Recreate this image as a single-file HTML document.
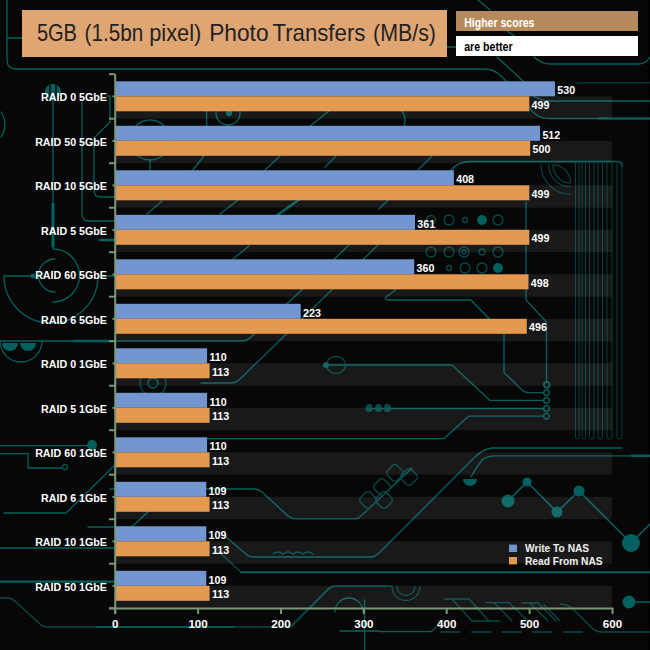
<!DOCTYPE html>
<html><head><meta charset="utf-8"><style>
html,body{margin:0;padding:0;background:#070707;width:650px;height:650px;overflow:hidden}
svg{display:block}
text{font-family:"Liberation Sans",sans-serif}
.dl,.cl,.xl{font-weight:bold;fill:#ffffff;font-size:10.7px}
.xl{font-size:11.6px}
.lg{font-weight:bold;fill:#f2f2f2;font-size:10.2px}
</style></head><body>
<svg width="650" height="650" viewBox="0 0 650 650">
<rect width="650" height="650" fill="#070707"/>
<rect x="648" y="0" width="2" height="650" fill="#000"/>
<g fill="none" stroke="#03605e" stroke-width="1.3" stroke-linecap="round" stroke-linejoin="round">
<!-- top frame -->
<path d="M7,0 V60 Q7,69 16,69 H485 Q494,69 501,76 L508,83"/>
<path d="M7,38 H22"/>
<path d="M447,47 H456"/>
<path d="M534,57 Q541,64 551,64 H638 Q646,64 650,57"/>
<path d="M478,0 L490,10"/>
<path d="M503,28 L520,40"/>
<path d="M497,57 L523,81"/>
<path d="M530,94 Q540,101 551,101 H650"/>
<path d="M577,82.9 H650" stroke="#06403e"/>
<path d="M527,104 Q535,118.5 549,118.5 H650"/>
<path d="M598,118.5 H650" stroke-width="2.2"/>
<path d="M402,111 Q407,118 404,126"/>
<!-- left column traces -->
<path d="M53,100 V248" />
<path d="M53,204 V246" stroke-width="3.2"/>
<path d="M82,102 V214 Q82,221 89,221 H115"/>
<path d="M107,96 H110 V122 L94,138 V190 Q94,197 101,197 H115"/>
<path d="M100,240 H115" stroke-width="2.4"/>
<path d="M53,249 A26.5,26.5 0 0 1 53,302"/>
<path d="M55,259 A16,16 0 0 0 55,292"/>
<path d="M4,276 H33 M100,276 H115"/>
<path d="M4,276 A47,47 0 0 0 98,276"/>
<path d="M0,341 H242 Q247,341 251,337 L302,289.7 L349,245"/>
<path d="M74,341 H109" stroke-width="2.6"/>
<path d="M0,341 A21,21 0 0 0 42,341"/>
<path d="M0,445.6 H92"/>
<path d="M0,453.6 H28 V468 H62"/>
<path d="M4,513 H66 L115,465"/>
<path d="M88,527 H128 Q132,527 135,524 L150,510"/>
<path d="M0,548 H115"/>
<path d="M0,581.6 H115" stroke-width="2.2"/>
<path d="M0,598 H8 Q12,598 16,602 L40,624 Q43,627 48,627 H291 L329,589 Q332,586 337,586 H389" stroke="#064a48"/>
<path d="M96,627 H234" />
<!-- plot-area fragments -->
<circle cx="150" cy="140" r="20"/>
<path d="M150,160 V171"/>
<path d="M1,112 Q9,124 1,137"/>
<circle cx="228" cy="113" r="12"/>
<circle cx="229" cy="113" r="2.5" fill="#03605e"/>
<path d="M206.6,111 V126"/>
<path d="M309,127 L330,110"/>
<path d="M192,171 L204,156"/>
<path d="M265,170 L280,156 M325,167 L336,156 M418,170 L432,156 M379,209 L389,199 M147,214 L162,201 M220,214 L238,200 M233,259 L249,246"/>
<path d="M276,216 L300,199" stroke-width="2.6"/>
<path d="M450,171 Q458,161.5 470,161.5 H617 Q622,161.5 622,166.5"/>
<!-- right bus -->
<g stroke="#053e3c" stroke-width="1">
<path d="M575.5,161.5 V437.2 A1.75,1.75 0 0 0 579,437.2 V161.5"/>
<path d="M582,161.5 V437.2 A1.75,1.75 0 0 0 585.5,437.2 V161.5"/>
<path d="M589.5,161.5 V436.8 A2.25,2.25 0 0 0 594,436.8 V161.5"/>
<path d="M598,161.5 V436.8 A2.25,2.25 0 0 0 602.5,436.8 V161.5"/>
<path d="M607,161.5 V436.5 A2.50,2.50 0 0 0 612,436.5 V161.5"/>
<path d="M617,161.5 V436.5 A2.50,2.50 0 0 0 622,436.5 V161.5"/>
</g>
<g stroke="#064a48" stroke-width="1.1">
<path d="M541,164.8 A29.5,29.5 0 0 0 570.6,194.3"/>
<path d="M548.6,164.8 A22,22 0 0 0 570.6,186.8"/>
<path d="M553,164.8 A18,18 0 0 0 570.6,183 A18,18 0 0 0 553,164.8"/>
</g>
<path d="M526,202 V300 L546.5,322 V381"/>
<path d="M455,160 Q448,168 455,175" stroke="none"/>
<path d="M396,289.4 L386,297 Q384,300 388,300 H470.8 L504,333.7 V372.5 L522,390 Q525,392.7 530,392.7 H543.5"/>
<path d="M326,365 H452 L490,400.4 H543.5"/>
<path d="M369,408.5 H543.5"/>
<path d="M200,438.6 H444 L468.6,416.2 H543.5"/>
<path d="M110,489 H254 Q258,489 262,492 L287,515 Q291,518.8 296,518.8 H355 Q358,518.8 361,516 L412,468"/>
<path d="M220,532 L246,554 Q249,557 254,557 H370 Q375,557 379,553 L475,457 Q483,449 492,448 H622"/>
<path d="M471,477 Q476,468 482,460 Q487,455.8 495,455.8 H650"/>
<path d="M632,455.8 H649" stroke-width="2.6"/>
<path d="M241,572.3 H650" stroke-width="2"/>
<path d="M215,548 L241,572.3" stroke="#064a48"/>
<path d="M201,383 H230 Q236,383 240,379 L378,245"/>

<path d="M273,554 q5,-4 10,0 q5,-4 10,0 q5,-4 10,0 q5,-4 10,0" stroke="#064a48"/>
<path d="M291,626 L329,588 Q332,586 337,586 H392" stroke="#064a48"/>
<path d="M335,612 A14,14 0 0 1 363,612 M364.6,600 V650 M340,631 H380"/>
<!-- dot graph -->
<path d="M508,501 L527,482 L557,512 L579,491 L631,543 L650,524" stroke-width="1.6"/>
<path d="M629,602 H650" stroke-width="1.6"/>
<!-- bottom right diagonals near axis -->
<g stroke="#064a48" stroke-width="1.3">
<path d="M444,599 H469 L489,621 M452,599 L472,621 H500"/>
<path d="M486,602.6 H509 L528,621 M494,602.6 L512,621"/>
<path d="M522,603 H538 L556,621 M530,603 L548,621 M544,605 L560,621"/>
<path d="M560,604 Q568,604 574,610 L592,628 Q596,632 602,632 H650"/>
</g>
<path d="M441,632 H590" stroke-dasharray="19,11.6" stroke="#064a48"/>
<path d="M380,631.7 H429 Q433,631.7 436,627"/>
<path d="M392,586.5 A14,14 0 0 0 420,586.5 M397,586.5 A9,9 0 0 0 415,586.5" stroke="#064a48"/>
<!-- pads -->
<g stroke="#064a48">
<rect x="-7" y="-7" width="14" height="14" rx="4" transform="translate(368,500) rotate(45)"/>
<rect x="-7" y="-7" width="14" height="14" rx="4" transform="translate(382,487) rotate(45)"/>
<rect x="-7" y="-7" width="14" height="14" rx="4" transform="translate(395,473) rotate(45)"/>
<rect x="-7" y="-7" width="14" height="14" rx="4" transform="translate(409,477) rotate(45)"/>
<rect x="-7" y="-7" width="14" height="14" rx="4" transform="translate(384,500) rotate(45)"/>
</g>
<ellipse cx="336" cy="365" rx="9.5" ry="8.5" stroke="#064a48"/>
<circle cx="153" cy="383" r="13" stroke="#064a48"/>
<circle cx="153" cy="383" r="5"/>
<!-- hole grid -->
<g stroke="#064a48">
<circle cx="431" cy="220" r="4.5"/><circle cx="449" cy="220" r="5"/><circle cx="465" cy="220" r="2.5"/><circle cx="498" cy="220" r="5"/>
<circle cx="431" cy="252" r="5"/><circle cx="449" cy="252" r="5"/><circle cx="464" cy="252" r="5"/><circle cx="464" cy="252" r="2"/><circle cx="482" cy="252" r="3"/><circle cx="498" cy="252" r="5"/>
<circle cx="449" cy="268" r="2.5"/><circle cx="465" cy="268" r="5"/><circle cx="482" cy="268" r="5"/>
</g>
<g>
<circle cx="546.5" cy="384.6" r="2.8"/><circle cx="546.5" cy="392.7" r="2.8"/><circle cx="546.5" cy="400.4" r="2.8"/><circle cx="546.5" cy="408.5" r="2.8"/><circle cx="546.5" cy="416.2" r="2.8"/>
</g>
<circle cx="547" cy="385" r="3"/>
</g>
<g fill="#03605e">
<circle cx="53" cy="92" r="8"/>
<circle cx="33" cy="276" r="2.5"/>
<circle cx="92" cy="445" r="5"/>
<circle cx="326" cy="365" r="3"/>
<path d="M2,343 A8,8 0 0 0 18,343 Z M20,343 A8,8 0 0 0 36,343 Z"/>
<circle cx="482" cy="220" r="5"/>
<circle cx="498" cy="268" r="5"/>
<circle cx="508" cy="501" r="6.5"/>
<circle cx="527" cy="482" r="4.5"/>
<circle cx="557" cy="512" r="5.5"/>
<circle cx="579" cy="491" r="5.5"/>
<circle cx="631" cy="543" r="9"/>
<circle cx="629" cy="602" r="6.5"/>
<path d="M463,479 A7,7 0 0 0 477,479 Z"/>
<rect x="365.5" y="404" width="7" height="8" rx="3.5" fill="#064a48"/>
<rect x="375" y="404" width="7" height="8" rx="3.5" fill="#064a48"/>
<rect x="384" y="404" width="7" height="8" rx="3.5" fill="#064a48"/>
</g>
<g fill="none" stroke="#03605e" stroke-width="1.2">
<circle cx="65" cy="467" r="2.5"/>
</g>
<g stroke="#0a0a0a" stroke-width="1.6">
<path d="M50,85 V99 M56,85 V99"/>
</g>

<rect x="22" y="10" width="425" height="47" fill="#dfa674"/>
<text x="36.9" y="41.1" font-size="23.6" fill="#222222" textLength="40.1" lengthAdjust="spacingAndGlyphs">5GB</text>
<text x="84.6" y="41.1" font-size="23.6" fill="#222222" textLength="58.7" lengthAdjust="spacingAndGlyphs">(1.5bn</text>
<text x="149.2" y="41.1" font-size="23.6" fill="#222222" textLength="52.2" lengthAdjust="spacingAndGlyphs">pixel)</text>
<text x="209.2" y="41.1" font-size="23.6" fill="#222222" textLength="59.4" lengthAdjust="spacingAndGlyphs">Photo</text>
<text x="272.4" y="41.1" font-size="23.6" fill="#222222" textLength="93.0" lengthAdjust="spacingAndGlyphs">Transfers</text>
<text x="373.0" y="41.1" font-size="23.6" fill="#222222" textLength="63.0" lengthAdjust="spacingAndGlyphs">(MB/s)</text>
<rect x="456" y="11" width="182" height="20" fill="#b58b5e"/>
<text x="464.2" y="26.7" font-size="12.5" font-weight="bold" fill="#ffffff" textLength="70.3" lengthAdjust="spacingAndGlyphs">Higher scores</text>
<rect x="456" y="36" width="182" height="20" fill="#ffffff"/>
<text x="464.2" y="51.2" font-size="12.5" font-weight="bold" fill="#000000" textLength="48.5" lengthAdjust="spacingAndGlyphs">are better</text>
<rect x="116" y="96.3" width="496" height="22.4" fill="#fff" fill-opacity="0.075"/>
<rect x="116" y="140.8" width="496" height="22.4" fill="#fff" fill-opacity="0.075"/>
<rect x="116" y="185.3" width="496" height="22.4" fill="#fff" fill-opacity="0.075"/>
<rect x="116" y="229.8" width="496" height="22.4" fill="#fff" fill-opacity="0.075"/>
<rect x="116" y="274.3" width="496" height="22.4" fill="#fff" fill-opacity="0.075"/>
<rect x="116" y="318.8" width="496" height="22.4" fill="#fff" fill-opacity="0.075"/>
<rect x="116" y="363.3" width="496" height="22.4" fill="#fff" fill-opacity="0.075"/>
<rect x="116" y="407.8" width="496" height="22.4" fill="#fff" fill-opacity="0.075"/>
<rect x="116" y="452.3" width="496" height="22.4" fill="#fff" fill-opacity="0.075"/>
<rect x="116" y="496.8" width="496" height="22.4" fill="#fff" fill-opacity="0.075"/>
<rect x="116" y="541.3" width="496" height="22.4" fill="#fff" fill-opacity="0.075"/>
<rect x="116" y="585.8" width="496" height="22.4" fill="#fff" fill-opacity="0.075"/>
<rect x="116.0" y="81.3" width="439.0" height="15" fill="#7396d0"/>
<rect x="116.0" y="96.3" width="413.3" height="15" fill="#e39a50"/>
<text class="dl" x="557.3" y="94.1">530</text>
<text class="dl" x="531.6" y="108.9">499</text>
<text class="cl" x="107" y="101.0" text-anchor="end">RAID 0 5GbE</text>
<rect x="116.0" y="125.8" width="424.1" height="15" fill="#7396d0"/>
<rect x="116.0" y="140.8" width="414.2" height="15" fill="#e39a50"/>
<text class="dl" x="542.4" y="138.6">512</text>
<text class="dl" x="532.5" y="153.4">500</text>
<text class="cl" x="107" y="145.5" text-anchor="end">RAID 50 5GbE</text>
<rect x="116.0" y="170.3" width="337.9" height="15" fill="#7396d0"/>
<rect x="116.0" y="185.3" width="413.3" height="15" fill="#e39a50"/>
<text class="dl" x="456.2" y="183.1">408</text>
<text class="dl" x="531.6" y="197.9">499</text>
<text class="cl" x="107" y="190.0" text-anchor="end">RAID 10 5GbE</text>
<rect x="116.0" y="214.8" width="299.0" height="15" fill="#7396d0"/>
<rect x="116.0" y="229.8" width="413.3" height="15" fill="#e39a50"/>
<text class="dl" x="417.3" y="227.6">361</text>
<text class="dl" x="531.6" y="242.4">499</text>
<text class="cl" x="107" y="234.5" text-anchor="end">RAID 5 5GbE</text>
<rect x="116.0" y="259.3" width="298.2" height="15" fill="#7396d0"/>
<rect x="116.0" y="274.3" width="412.5" height="15" fill="#e39a50"/>
<text class="dl" x="416.5" y="272.1">360</text>
<text class="dl" x="530.8" y="286.9">498</text>
<text class="cl" x="107" y="279.0" text-anchor="end">RAID 60 5GbE</text>
<rect x="116.0" y="303.8" width="184.7" height="15" fill="#7396d0"/>
<rect x="116.0" y="318.8" width="410.8" height="15" fill="#e39a50"/>
<text class="dl" x="303.0" y="316.6">223</text>
<text class="dl" x="529.1" y="331.4">496</text>
<text class="cl" x="107" y="323.5" text-anchor="end">RAID 6 5GbE</text>
<rect x="116.0" y="348.3" width="91.1" height="15" fill="#7396d0"/>
<rect x="116.0" y="363.3" width="93.6" height="15" fill="#e39a50"/>
<text class="dl" x="209.4" y="361.1">110</text>
<text class="dl" x="211.9" y="375.9">113</text>
<text class="cl" x="107" y="368.0" text-anchor="end">RAID 0 1GbE</text>
<rect x="116.0" y="392.8" width="91.1" height="15" fill="#7396d0"/>
<rect x="116.0" y="407.8" width="93.6" height="15" fill="#e39a50"/>
<text class="dl" x="209.4" y="405.6">110</text>
<text class="dl" x="211.9" y="420.4">113</text>
<text class="cl" x="107" y="412.5" text-anchor="end">RAID 5 1GbE</text>
<rect x="116.0" y="437.3" width="91.1" height="15" fill="#7396d0"/>
<rect x="116.0" y="452.3" width="93.6" height="15" fill="#e39a50"/>
<text class="dl" x="209.4" y="450.1">110</text>
<text class="dl" x="211.9" y="464.9">113</text>
<text class="cl" x="107" y="457.0" text-anchor="end">RAID 60 1GbE</text>
<rect x="116.0" y="481.8" width="90.3" height="15" fill="#7396d0"/>
<rect x="116.0" y="496.8" width="93.6" height="15" fill="#e39a50"/>
<text class="dl" x="208.6" y="494.6">109</text>
<text class="dl" x="211.9" y="509.4">113</text>
<text class="cl" x="107" y="501.5" text-anchor="end">RAID 6 1GbE</text>
<rect x="116.0" y="526.3" width="90.3" height="15" fill="#7396d0"/>
<rect x="116.0" y="541.3" width="93.6" height="15" fill="#e39a50"/>
<text class="dl" x="208.6" y="539.1">109</text>
<text class="dl" x="211.9" y="553.9">113</text>
<text class="cl" x="107" y="546.0" text-anchor="end">RAID 10 1GbE</text>
<rect x="116.0" y="570.8" width="90.3" height="15" fill="#7396d0"/>
<rect x="116.0" y="585.8" width="93.6" height="15" fill="#e39a50"/>
<text class="dl" x="208.6" y="583.6">109</text>
<text class="dl" x="211.9" y="598.4">113</text>
<text class="cl" x="107" y="590.5" text-anchor="end">RAID 50 1GbE</text>
<text class="xl" x="115.2" y="627.6" text-anchor="middle">0</text>
<text class="xl" x="198.1" y="627.6" text-anchor="middle">100</text>
<text class="xl" x="281.0" y="627.6" text-anchor="middle">200</text>
<text class="xl" x="363.9" y="627.6" text-anchor="middle">300</text>
<text class="xl" x="446.7" y="627.6" text-anchor="middle">400</text>
<text class="xl" x="529.6" y="627.6" text-anchor="middle">500</text>
<text class="xl" x="612.5" y="627.6" text-anchor="middle">600</text>
<g stroke="#7a9778" stroke-width="2">
<line x1="115.2" y1="74" x2="115.2" y2="614" />
<line x1="109" y1="608.4" x2="613.5" y2="608.4" />
<line x1="109" y1="74.2" x2="115" y2="74.2" />
<line x1="109" y1="118.7" x2="115" y2="118.7" />
<line x1="109" y1="163.2" x2="115" y2="163.2" />
<line x1="109" y1="207.7" x2="115" y2="207.7" />
<line x1="109" y1="252.2" x2="115" y2="252.2" />
<line x1="109" y1="296.7" x2="115" y2="296.7" />
<line x1="109" y1="341.2" x2="115" y2="341.2" />
<line x1="109" y1="385.7" x2="115" y2="385.7" />
<line x1="109" y1="430.2" x2="115" y2="430.2" />
<line x1="109" y1="474.7" x2="115" y2="474.7" />
<line x1="109" y1="519.2" x2="115" y2="519.2" />
<line x1="109" y1="563.7" x2="115" y2="563.7" />
<line x1="109" y1="608.2" x2="115" y2="608.2" />
<line x1="112.5" y1="96.4" x2="115" y2="96.4" />
<line x1="112.5" y1="140.9" x2="115" y2="140.9" />
<line x1="112.5" y1="185.4" x2="115" y2="185.4" />
<line x1="112.5" y1="229.9" x2="115" y2="229.9" />
<line x1="112.5" y1="274.4" x2="115" y2="274.4" />
<line x1="112.5" y1="318.9" x2="115" y2="318.9" />
<line x1="112.5" y1="363.4" x2="115" y2="363.4" />
<line x1="112.5" y1="407.9" x2="115" y2="407.9" />
<line x1="112.5" y1="452.4" x2="115" y2="452.4" />
<line x1="112.5" y1="496.9" x2="115" y2="496.9" />
<line x1="112.5" y1="541.4" x2="115" y2="541.4" />
<line x1="112.5" y1="585.9" x2="115" y2="585.9" />
<line x1="115.2" y1="608" x2="115.2" y2="614" />
<line x1="198.1" y1="608" x2="198.1" y2="614" />
<line x1="281.0" y1="608" x2="281.0" y2="614" />
<line x1="363.9" y1="608" x2="363.9" y2="614" />
<line x1="446.7" y1="608" x2="446.7" y2="614" />
<line x1="529.6" y1="608" x2="529.6" y2="614" />
<line x1="612.5" y1="608" x2="612.5" y2="614" />
</g>
<rect x="509" y="544.6" width="8" height="7.4" fill="#7396d0"/>
<rect x="509" y="557" width="8" height="7.4" fill="#e39a50"/>
<text class="lg" x="525" y="551.8">Write To NAS</text>
<text class="lg" x="525" y="564.6">Read From NAS</text>
</svg>
</body></html>
